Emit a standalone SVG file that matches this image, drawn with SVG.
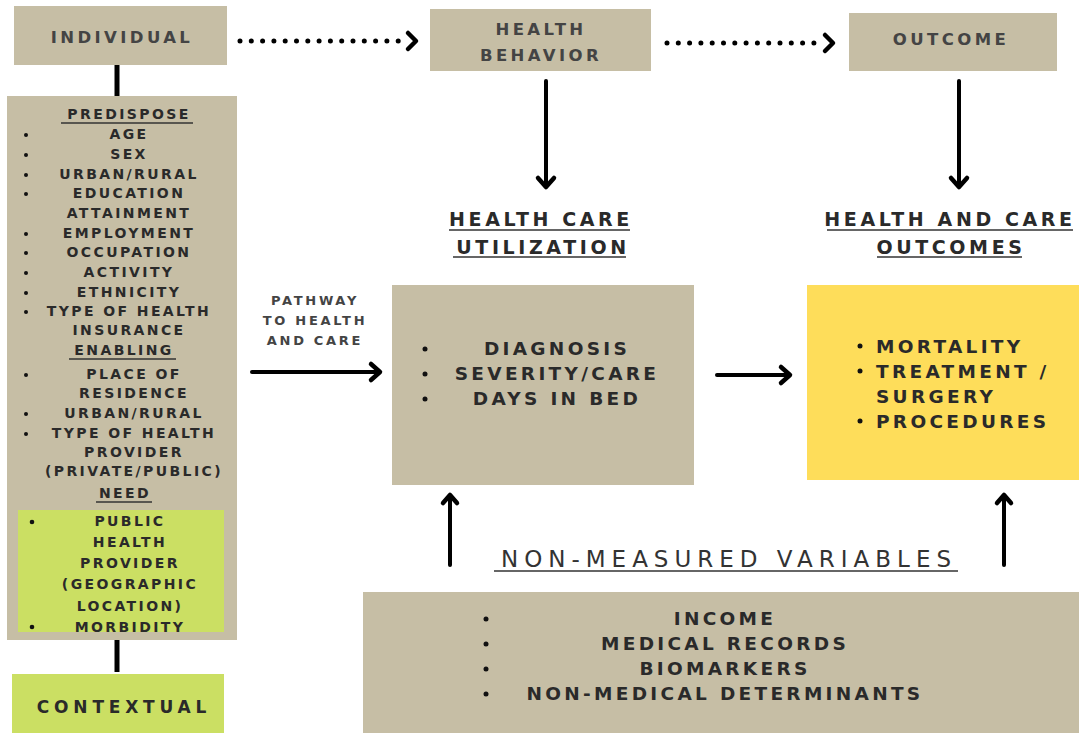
<svg xmlns="http://www.w3.org/2000/svg" width="1079" height="733" viewBox="0 0 1079 733">
<defs>
<style>
.tan{fill:#c6bea5}
.green{fill:#cbdf63}
.yellow{fill:#fedd5a}
text{font-family:"DejaVu Sans","Open Sans",sans-serif;font-weight:700;fill:#2a2a2a}
.hdr{font-size:16.5px;letter-spacing:3.4px;fill:#444;text-anchor:middle}
.lst{font-size:14px;letter-spacing:2.4px;text-anchor:middle}
.mid{font-size:18.5px;letter-spacing:3.3px;text-anchor:middle}
.ttl{font-size:19px;letter-spacing:3.6px;text-anchor:middle}
.sm{font-size:13px;letter-spacing:2.7px;text-anchor:middle;fill:#444}
.ul{stroke:#333;stroke-width:1.5}
.dot{fill:#111}
.conn{stroke:#000;stroke-width:4;fill:none;stroke-linecap:round}
.dotted{stroke:#000;stroke-width:5;fill:none;stroke-linecap:round;stroke-dasharray:0 11.3}
.head{stroke:#000;stroke-width:4.5;fill:none;stroke-linecap:round;stroke-linejoin:round}
</style>
</defs>
<rect width="1079" height="733" fill="#fff"/>

<g id="connectors">
<line x1="117" y1="65" x2="117" y2="96" stroke="#000" stroke-width="5"/>
<line x1="117" y1="640" x2="117" y2="672" stroke="#000" stroke-width="5"/>
<line class="dotted" x1="240" y1="41" x2="406" y2="41"/>
<polyline class="head" points="408,33 416,41 408,49"/>
<line class="dotted" x1="667" y1="43" x2="825" y2="43"/>
<polyline class="head" points="825,35 833,43 825,51"/>
<line class="conn" x1="546" y1="81" x2="546" y2="186"/>
<polyline class="head" points="538,178 546,187 554,178"/>
<line class="conn" x1="959" y1="81" x2="959" y2="186"/>
<polyline class="head" points="951,178 959,187 967,178"/>
<line class="conn" x1="252" y1="372" x2="378" y2="372"/>
<polyline class="head" points="371,364 380,372 371,380"/>
<line class="conn" x1="717" y1="375" x2="788" y2="375"/>
<polyline class="head" points="781,367 790,375 781,383"/>
<line class="conn" x1="450" y1="565" x2="450" y2="496"/>
<polyline class="head" points="443,503 450,495 457,503"/>
<line class="conn" x1="1004" y1="565" x2="1004" y2="496"/>
<polyline class="head" points="997,503 1004,495 1011,503"/>
</g>

<g id="individual">
<rect class="tan" x="14" y="6" width="213" height="59"/>
<text class="hdr" x="122" y="43">INDIVIDUAL</text>
</g>

<g id="health-behavior">
<rect class="tan" x="430" y="9" width="221" height="62"/>
<text class="hdr" x="541" y="35">HEALTH</text>
<text class="hdr" x="541" y="61">BEHAVIOR</text>
</g>

<g id="outcome">
<rect class="tan" x="849" y="13" width="208" height="58"/>
<text class="hdr" x="951" y="45">OUTCOME</text>
</g>

<g id="factors">
<rect class="tan" x="7" y="96" width="230" height="544"/>
<rect class="green" x="18" y="510" width="206" height="122"/>
<text class="lst" x="129" y="119">PREDISPOSE</text>
<line class="ul" x1="61" y1="123" x2="193" y2="123"/>
<text class="lst" x="129" y="139">AGE</text>
<text class="lst" x="129" y="159">SEX</text>
<text class="lst" x="129" y="179">URBAN/RURAL</text>
<text class="lst" x="129" y="198">EDUCATION</text>
<text class="lst" x="129" y="218">ATTAINMENT</text>
<text class="lst" x="129" y="238">EMPLOYMENT</text>
<text class="lst" x="129" y="257">OCCUPATION</text>
<text class="lst" x="129" y="277">ACTIVITY</text>
<text class="lst" x="129" y="297">ETHNICITY</text>
<text class="lst" x="129" y="316">TYPE OF HEALTH</text>
<text class="lst" x="129" y="335">INSURANCE</text>
<text class="lst" x="124" y="355">ENABLING</text>
<line class="ul" x1="69" y1="359" x2="176" y2="359"/>
<text class="lst" x="134" y="379">PLACE OF</text>
<text class="lst" x="134" y="398">RESIDENCE</text>
<text class="lst" x="134" y="418">URBAN/RURAL</text>
<text class="lst" x="134" y="438">TYPE OF HEALTH</text>
<text class="lst" x="134" y="457">PROVIDER</text>
<text class="lst" x="134" y="476">(PRIVATE/PUBLIC)</text>
<text class="lst" x="125" y="498">NEED</text>
<line class="ul" x1="96" y1="502" x2="152" y2="502"/>
<text class="lst" x="130" y="526">PUBLIC</text>
<text class="lst" x="130" y="547">HEALTH</text>
<text class="lst" x="130" y="568">PROVIDER</text>
<text class="lst" x="130" y="589">(GEOGRAPHIC</text>
<text class="lst" x="130" y="611">LOCATION)</text>
<text class="lst" x="130" y="632">MORBIDITY</text>
<circle class="dot" cx="26" cy="135" r="2"/>
<circle class="dot" cx="26" cy="155" r="2"/>
<circle class="dot" cx="26" cy="175" r="2"/>
<circle class="dot" cx="26" cy="194" r="2"/>
<circle class="dot" cx="26" cy="234" r="2"/>
<circle class="dot" cx="26" cy="253" r="2"/>
<circle class="dot" cx="26" cy="273" r="2"/>
<circle class="dot" cx="26" cy="293" r="2"/>
<circle class="dot" cx="26" cy="312" r="2"/>
<circle class="dot" cx="26" cy="375" r="2"/>
<circle class="dot" cx="26" cy="414" r="2"/>
<circle class="dot" cx="26" cy="434" r="2"/>
<circle class="dot" cx="32" cy="522" r="2.3"/>
<circle class="dot" cx="32" cy="627" r="2.3"/>
</g>

<g id="contextual">
<rect class="green" x="12" y="674" width="212" height="59"/>
<text class="hdr" x="124" y="713" style="fill:#2a2a2a;font-size:17px;letter-spacing:4.8px">CONTEXTUAL</text>
</g>

<g id="pathway-label">
<text class="sm" x="315" y="305">PATHWAY</text>
<text class="sm" x="315" y="325">TO HEALTH</text>
<text class="sm" x="315" y="345">AND CARE</text>
</g>

<g id="utilization">
<text class="ttl" x="541" y="226">HEALTH CARE</text>
<line class="ul" x1="449" y1="230" x2="630" y2="230"/>
<text class="ttl" x="543" y="254">UTILIZATION</text>
<line class="ul" x1="453" y1="257" x2="626" y2="257"/>
<rect class="tan" x="392" y="285" width="302" height="200"/>
<text class="mid" x="557" y="355">DIAGNOSIS</text>
<text class="mid" x="557" y="380">SEVERITY/CARE</text>
<text class="mid" x="557" y="405">DAYS IN BED</text>
<circle class="dot" cx="425" cy="349" r="2.5"/>
<circle class="dot" cx="425" cy="374" r="2.5"/>
<circle class="dot" cx="425" cy="399" r="2.5"/>
</g>

<g id="outcomes">
<text class="ttl" x="950" y="226">HEALTH AND CARE</text>
<line class="ul" x1="827" y1="230" x2="1073" y2="230"/>
<text class="ttl" x="951" y="254">OUTCOMES</text>
<line class="ul" x1="877" y1="257" x2="1022" y2="257"/>
<rect class="yellow" x="807" y="285" width="272" height="195"/>
<text class="mid" x="876" y="353" style="text-anchor:start">MORTALITY</text>
<text class="mid" x="876" y="378" style="text-anchor:start">TREATMENT /</text>
<text class="mid" x="876" y="403" style="text-anchor:start">SURGERY</text>
<text class="mid" x="876" y="428" style="text-anchor:start">PROCEDURES</text>
<circle class="dot" cx="860" cy="346" r="2.5"/>
<circle class="dot" cx="860" cy="371" r="2.5"/>
<circle class="dot" cx="860" cy="421" r="2.5"/>
</g>

<g id="non-measured">
<text class="ttl" x="729" y="567" style="font-size:23px;letter-spacing:6px;font-weight:400;fill:#333">NON-MEASURED VARIABLES</text>
<line class="ul" x1="494" y1="571" x2="958" y2="571"/>
<rect class="tan" x="363" y="592" width="716" height="141"/>
<text class="mid" x="725" y="625">INCOME</text>
<text class="mid" x="725" y="650">MEDICAL RECORDS</text>
<text class="mid" x="725" y="675">BIOMARKERS</text>
<text class="mid" x="725" y="700">NON-MEDICAL DETERMINANTS</text>
<circle class="dot" cx="486" cy="619" r="2.5"/>
<circle class="dot" cx="486" cy="644" r="2.5"/>
<circle class="dot" cx="486" cy="669" r="2.5"/>
<circle class="dot" cx="486" cy="694" r="2.5"/>
</g>
</svg>
